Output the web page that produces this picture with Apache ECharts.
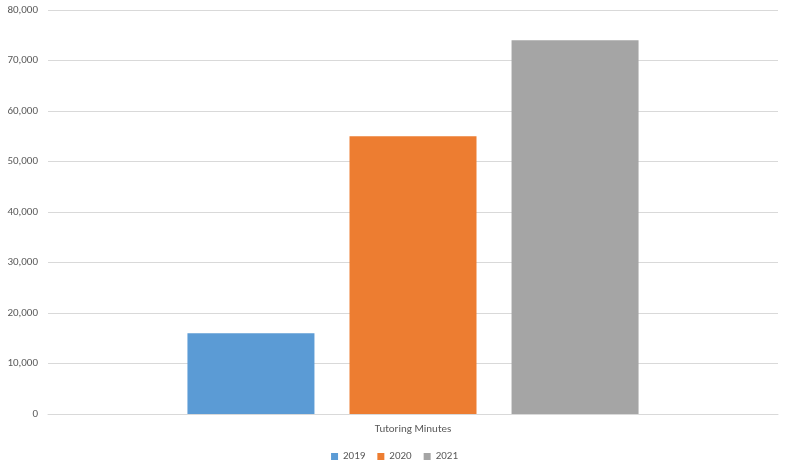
<!DOCTYPE html>
<html><head><meta charset="utf-8">
<script src="https://cdn.jsdelivr.net/npm/echarts@6/dist/echarts.min.js"></script>
<style>html,body{margin:0;padding:0;background:#fff}#c{width:789px;height:473px}</style>
</head><body><div id="c"></div>
<script>
const categories = ['Tutoring Minutes'];
const seriesNames = ['2019','2020','2021'];
const values2019 = [16000];
const values2020 = [55000];
const values2021 = [74000];
const colors = ['#5B9BD5','#ED7D31','#A5A5A5'];
const chart = echarts.init(document.getElementById('c'));
const txt = {color:'#595959', fontFamily:'Calibri, Carlito, "Liberation Sans", sans-serif', fontSize:11};
chart.setOption({
  animation:false,
  grid:{left:48,right:11,top:10,bottom:59,containLabel:false},
  legend:{bottom:6,itemWidth:7,itemHeight:7,itemGap:12,icon:'rect',textStyle:txt,data:seriesNames},
  xAxis:{type:'category',data:categories,axisTick:{show:false},axisLine:{lineStyle:{color:'#D9D9D9'}},axisLabel:Object.assign({margin:10},txt)},
  yAxis:{type:'value',min:0,max:80000,interval:10000,axisLabel:Object.assign({formatter:v=>v.toLocaleString('en-US'),margin:10},txt),splitLine:{lineStyle:{color:'#D9D9D9'}}},
  series:[values2019,values2020,values2021].map((d,i)=>({name:seriesNames[i],type:'bar',data:d,barWidth:127,barGap:'27.6%',itemStyle:{color:colors[i]}}))
});
</script></body></html>
